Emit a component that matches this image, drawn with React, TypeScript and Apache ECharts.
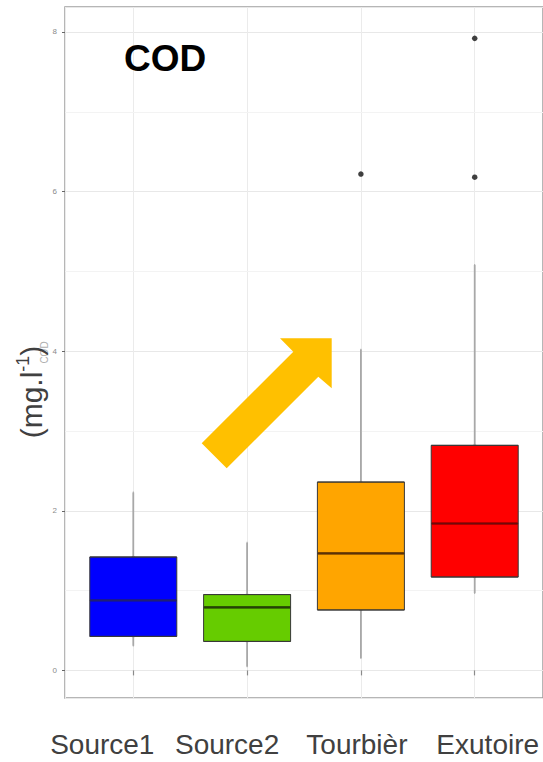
import React, { useEffect, useRef } from 'react';
import * as echarts from 'echarts';

// ---- data ----
const categories = ['Source1', 'Source2', 'Tourbièr', 'Exutoire'];
const whiskerLow = [0.31, 0.05, 0.155, 0.97];
const q1 = [0.426, 0.363, 0.757, 1.17];
const medians = [0.877, 0.79, 1.466, 1.84];
const q3 = [1.421, 0.95, 2.36, 2.82];
const whiskerHigh = [2.23, 1.6, 4.02, 5.08];
const outlierCategory = [2, 3, 3];
const outlierValues = [6.22, 7.92, 6.18];
const minorGridValues = [1, 3, 5, 7];
const boxColors = ['#0000FF', '#66CC00', '#FFA500', '#FF0000'];
const medianColors = ['#1c1c80', '#1f3d00', '#5c2e00', '#7a0000'];

const FONT = "'Liberation Sans', Arial, sans-serif";

export default function App() {
  const ref = useRef<HTMLDivElement>(null);

  useEffect(() => {
    if (!ref.current) return;
    const chart = echarts.init(ref.current, undefined, { renderer: 'svg' });
    const xPos = categories.map((_, i) => i + 1);
    const labelShift = [-31, -20, -4, 13];
    const rich: Record<string, any> = {};
    labelShift.forEach((s, i) => {
      rich['c' + i] = {
        fontSize: 28,
        color: '#404040',
        fontFamily: FONT,
        padding: s < 0 ? [0, -2 * s, 0, 0] : [0, 0, 0, 2 * s],
      };
    });

    const option: any = {
      animation: false,
      backgroundColor: '#ffffff',
      textStyle: { fontFamily: FONT },
      grid: {
        left: 65,
        top: 7,
        width: 481,
        bottom: 64,
        show: true,
        borderColor: '#9e9e9e',
        borderWidth: 1.5,
        backgroundColor: 'transparent',
      },
      xAxis: [
        {
          type: 'value',
          min: 0.4,
          max: 4.6,
          splitNumber: 4,
          axisLine: { show: false },
          axisTick: { show: true, length: 5, lineStyle: { color: '#8a8a8a', width: 1.2 } },
          axisLabel: {
            margin: 32,
            showMinLabel: false,
            showMaxLabel: false,
            formatter: (v: number) => {
              const r = Math.round(v);
              if (Math.abs(v - r) > 1e-6) return '';
              const i = r - 1;
              return categories[i] ? `{c${i}|${categories[i]}}` : '';
            },
            rich,
          },
          splitLine: { show: true, lineStyle: { color: '#ebebeb', width: 1 } },
        },
        {
          type: 'value',
          min: 0.4,
          max: 4.6,
          splitNumber: 4,
          show: false,
        },
      ],
      yAxis: {
        type: 'value',
        min: -0.346,
        max: 8.313,
        splitNumber: 5,
        name: 'COD',
        nameLocation: 'middle',
        nameGap: 16,
        nameMoveOverlap: false,
        nameTextStyle: { fontSize: 10, color: '#b0b0b0', fontFamily: FONT },
        axisLine: { show: false },
        axisTick: { show: true, length: 3, lineStyle: { color: '#666666' } },
        axisLabel: {
          fontSize: 8,
          color: '#8a8a8a',
          margin: 8,
          showMinLabel: false,
          showMaxLabel: false,
          formatter: (v: number) => (Number.isInteger(v) ? String(v) : ''),
        },
        splitLine: { show: true, lineStyle: { color: '#e8e8e8', width: 1 } },
      },
      series: [
        {
          type: 'boxplot',
          name: 'whiskers',
          xAxisIndex: 1,
          silent: true,
          z: 2,
          boxWidth: [1, 1],
          itemStyle: { color: 'rgba(0,0,0,0)', borderColor: '#a8a8a8', borderWidth: 1.8 },
          data: xPos.map((x, i) => [x, whiskerLow[i], q1[i], medians[i], q3[i], whiskerHigh[i]]),
          markLine: {
            silent: true,
            z: 1,
            symbol: ['none', 'none'],
            label: { show: false },
            lineStyle: { color: '#f3f3f3', width: 1, type: 'solid' },
            data: minorGridValues.map((v) => ({ yAxis: v })),
          },
        },
        {
          type: 'boxplot',
          name: 'boxes',
          xAxisIndex: 0,
          silent: true,
          z: 10,
          boxWidth: [87, 87],
          itemStyle: { borderColor: '#383838', borderWidth: 1 },
          data: xPos.map((x, i) => ({
            value: [x, q1[i], q1[i], medians[i], q3[i], q3[i]],
            itemStyle: { color: boxColors[i] },
          })),
        },
        {
          type: 'scatter',
          name: 'medians',
          silent: true,
          z: 11,
          symbol: 'rect',
          symbolSize: [86, 2.6],
          data: xPos.map((x, i) => ({ value: [x, medians[i]], itemStyle: { color: medianColors[i] } })),
        },
        {
          type: 'scatter',
          name: 'outliers',
          silent: true,
          z: 12,
          symbolSize: 5.5,
          itemStyle: { color: '#111111' },
          data: outlierCategory.map((c, k) => [c + 1, outlierValues[k]]),
        },
      ],
      graphic: [
        {
          type: 'polygon',
          z: 100,
          shape: {
            points: [
              [331.7, 338.3],
              [331.7, 388.3],
              [318.3, 376.7],
              [226.7, 468.3],
              [201.7, 443.3],
              [293.3, 351.7],
              [280, 338.3],
            ],
          },
          style: { fill: '#FFC000' },
        },
        {
          type: 'text',
          z: 100,
          x: 124,
          y: 58,
          style: {
            text: 'COD',
            fontFamily: FONT,
            fontWeight: 'bold',
            fontSize: 37,
            fill: '#000000',
            align: 'left',
            verticalAlign: 'middle',
          },
        },
        {
          type: 'text',
          z: 100,
          x: 31,
          y: 392,
          rotation: Math.PI / 2,
          style: {
            text: '{a|(mg.l}{s|-1}{a|)}',
            align: 'center',
            verticalAlign: 'middle',
            rich: {
              a: { fontSize: 30, fontFamily: FONT, fill: '#404040', lineHeight: 34 },
              s: { fontSize: 18, fontFamily: FONT, fill: '#404040', lineHeight: 34, verticalAlign: 'top' },
            },
          },
        },
      ],
    };

    chart.setOption(option);
    return () => chart.dispose();
  }, []);

  return (
    <div
      ref={ref}
      style={{ position: 'fixed', left: 0, top: 0, width: 543, height: 762, background: '#fff' }}
    />
  );
}
